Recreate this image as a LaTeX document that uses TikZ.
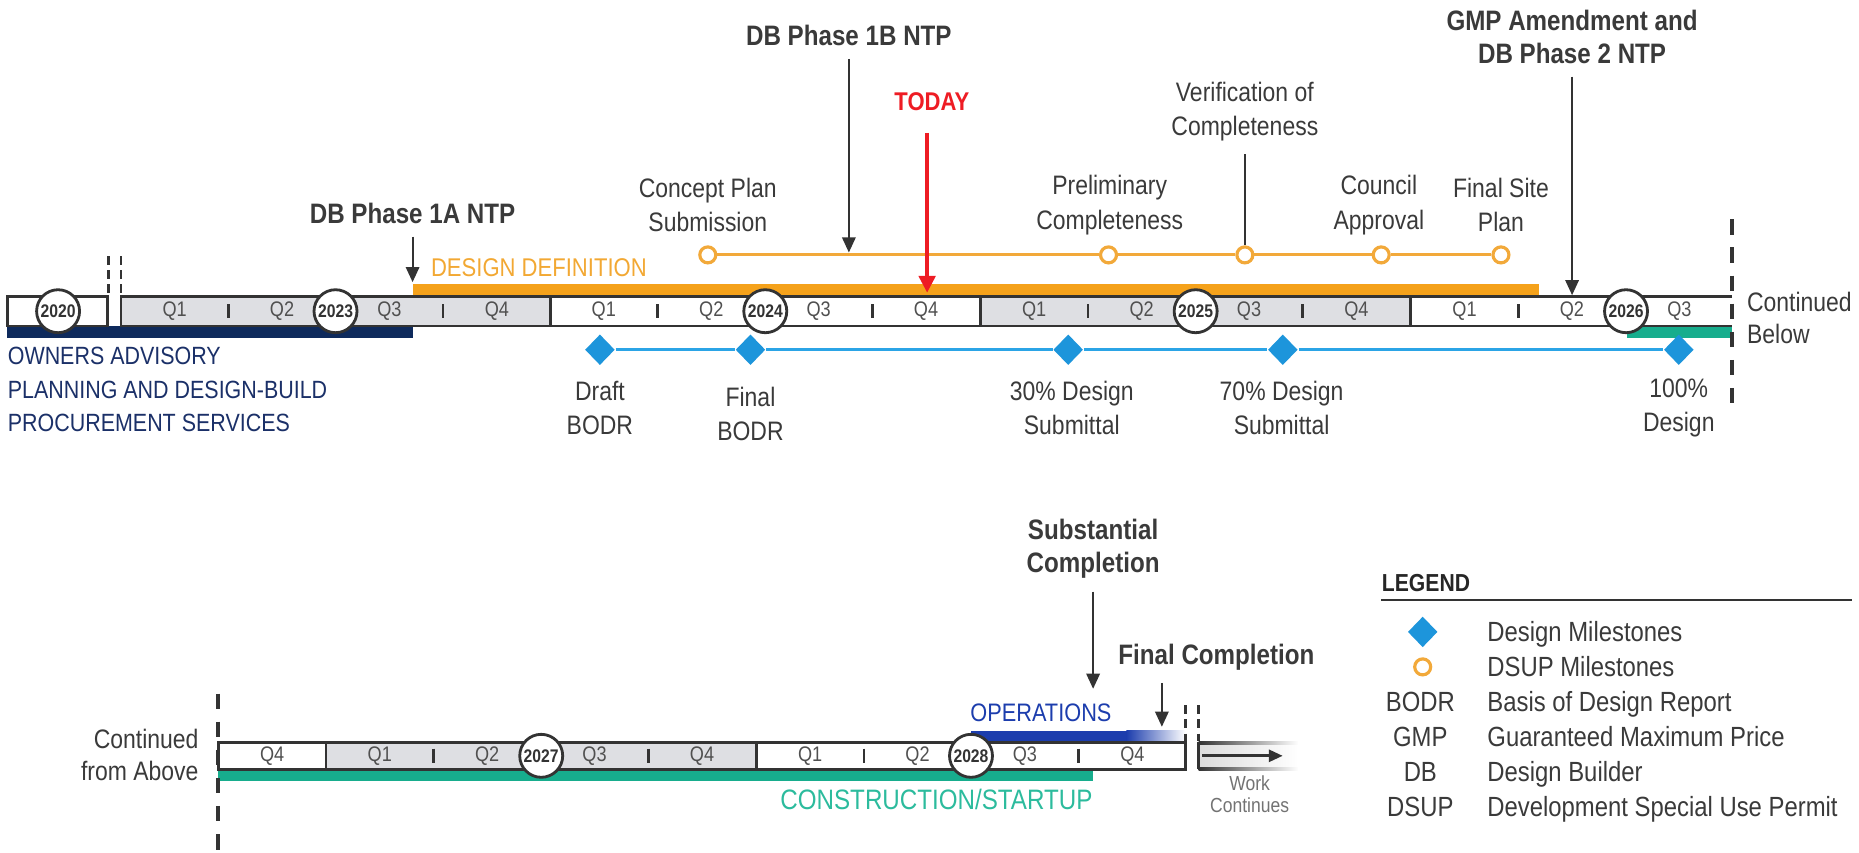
\documentclass[tikz,border=0pt]{standalone}
\usepackage{fontspec}
\setmainfont{Liberation Sans}[FakeStretch=0.86]
\usetikzlibrary{arrows.meta,shapes.geometric,positioning}

\definecolor{bardark}{HTML}{333333}
\definecolor{txtgray}{HTML}{3A3A3A}
\definecolor{qgray}{HTML}{505050}
\definecolor{qfill}{HTML}{DEDFE3}
\definecolor{navybar}{HTML}{0E2A5C}
\definecolor{navytxt}{HTML}{1B3068}
\definecolor{ddorange}{HTML}{F5A21B}
\definecolor{ddtxt}{HTML}{F2A833}
\definecolor{dsuporange}{HTML}{F2A93A}
\definecolor{cteal}{HTML}{17AD8D}
\definecolor{ctealtxt}{HTML}{2CBB9D}
\definecolor{desblue}{HTML}{1D95DB}
\definecolor{deslinecol}{HTML}{2BA4E6}
\definecolor{opblue}{HTML}{1C3DAD}
\definecolor{todayred}{HTML}{EE1C24}

\tikzset{
  barline/.style={draw=bardark, line width=0.8pt},
  qtick/.style={bardark, line width=0.75pt},
  qlab/.style={font=\fontsize{6}{7}\selectfont, text=qgray},
  yrcirc/.style={circle, draw=bardark, line width=0.8pt, fill=white, minimum size=4.3mm,
    font=\fontsize{5.2}{6}\selectfont\bfseries, text=bardark},
  lbl/.style={font=\fontsize{7.6}{9.8}\selectfont, text=txtgray, align=center},
  boldlbl/.style={font=\fontsize{8}{9.4}\selectfont\bfseries, text=txtgray, align=center},
  dsupdot/.style={circle, draw=dsuporange, line width=0.9pt, fill=white, minimum size=1.6mm},
  desdiam/.style={diamond, fill=desblue, minimum width=3mm, minimum height=3.1mm},
  ptr/.style={-{Triangle[length=4.3pt,width=3.8pt]}, line width=0.6pt, bardark, shorten <=3.5pt},
  vdash/.style={bardark, line width=1.3pt, dash pattern=on 4.4pt off 3.6pt},
  gapdash/.style={bardark, line width=0.7pt, dash pattern=on 2.4pt off 1.6pt},
  legtxt/.style={font=\fontsize{7.9}{9.5}\selectfont, text=txtgray, text height=5.7pt, text depth=0pt},
}

\begin{document}
\begin{tikzpicture}[x=0.1186mm, y=-0.1186mm, every node/.style={inner sep=0pt}]
  \useasboundingbox (0,0) rectangle (1568,719);

  % Shaded years behind the bars.
  \fill[qfill] (102,250) rectangle (464,275);
  \fill[qfill] (827,250) rectangle (1190,275);
  \fill[qfill] (275,626) rectangle (638,649);

  % Phase bars above and below the timeline.
  \fill[navybar] (6,275) rectangle (348,285.5);
  \fill[ddorange] (348,239.5) rectangle (1298,250);
  \fill[cteal] (1372,275) rectangle (1461,285.5);
  \fill[cteal] (184,649) rectangle (922,658.5);
  \fill[opblue] (819,616.5) rectangle (950,626);
  \shade[left color=opblue, right color=white] (950,616.5) rectangle (1000,626);

  % Timeline outlines.
  \draw[barline] (6,250) rectangle (91,275);
  \draw[barline] (1461,250) -- (102,250) -- (102,275) -- (1461,275);
  \foreach \x in {464,827,1190}{\draw[barline] (\x,250) -- (\x,275);}
  \draw[barline] (184,626) rectangle (1000,649);
  \foreach \x in {275,638}{\draw[barline] (\x,626) -- (\x,649);}

  % Breaks in time and continuation marks.
  \foreach \x in {91.5,102}{\draw[gapdash] (\x,216) -- (\x,249);}
  \foreach \x in {1000,1011}{\draw[gapdash] (\x,595) -- (\x,625);}
  \draw[vdash] (1461,185) -- (1461,343);
  \draw[vdash] (184,585) -- (184,717);

  % Quarters, top row.
  \foreach \s in {102,464,827}{
    \foreach \q in {1,...,4}{\node[qlab] (q\s-\q) at (\s+90.6*\q-45.3,262.5) {Q\q};}
    \draw[qtick] (\s+90.6,256.5) -- (\s+90.6,268.5);
    \draw[qtick] (\s+271.8,256.5) -- (\s+271.8,268.5);
  }
  \foreach \q in {1,2,3}{\node[qlab] (q1190-\q) at (1190+90.6*\q-45.3,262.5) {Q\q};}
  \draw[qtick] (1280.6,256.5) -- (1280.6,268.5);

  % Quarters, bottom row.
  \node[qlab] (q184-4) at (229.5,637.5) {Q4};
  \foreach \s in {275,638}{
    \foreach \q in {1,...,4}{\node[qlab] (q\s-\q) at (\s+90.6*\q-45.3,637.5) {Q\q};}
    \draw[qtick] (\s+90.6,631.5) -- (\s+90.6,643.5);
    \draw[qtick] (\s+271.8,631.5) -- (\s+271.8,643.5);
  }

  % Year markers.
  \foreach \yx/\yr in {49/2020,283/2023,645.5/2024,1008.5/2025,1371.5/2026}{
    \node[yrcirc] (y\yr) at (\yx,262.5) {\yr};
  }
  \foreach \yx/\yr in {456.5/2027,819/2028}{
    \node[yrcirc] (y\yr) at (\yx,637.5) {\yr};
  }

  % Design milestones.
  \foreach \n/\x in {1/506,2/633,3/901,4/1082,5/1416}{\node[desdiam] (d\n) at (\x,295) {};}
  \draw[deslinecol, line width=0.9pt] (d1) -- (d2) -- (d3) -- (d4) -- (d5);
  \node[lbl] (draft) at (506,344) {Draft\\BODR};
  \node[lbl] (final) at (633,349) {Final\\BODR};
  \node[lbl] (des30) at (904,344) {30\% Design\\Submittal};
  \node[lbl] (des70) at (1081,344) {70\% Design\\Submittal};
  \node[lbl] (des100) at (1416,344) {100\%\\Design};

  % DSUP milestones.
  \foreach \n/\x in {1/597,2/935,3/1050,4/1165,5/1266}{\node[dsupdot] (c\n) at (\x,215) {};}
  \draw[dsuporange, line width=0.8pt] (c1) -- (c2) -- (c3) -- (c4) -- (c5);
  \node[lbl] (concept) at (597,173) {Concept Plan\\Submission};
  \node[lbl] (prelim) at (936,173) {Preliminary\\Completeness};
  \node[lbl] (verif) at (1050,94) {Verification of\\Completeness};
  \node[lbl] (council) at (1163,173) {Council\\Approval};
  \node[lbl] (siteplan) at (1266,173) {Final Site\\Plan};
  \draw[bardark, line width=0.6pt, shorten <=3.5pt] (verif) -- (c3);

  % Notices to proceed and completion pointers.
  \node[boldlbl] (ntp1a) at (348,180) {DB Phase 1A NTP};
  \coordinate (ntp1a-end) at (348,238);
  \draw[ptr] (ntp1a) -- (ntp1a-end);
  \node[boldlbl] (ntp1b) at (716,30) {DB Phase 1B NTP};
  \coordinate (ntp1b-end) at (716,213);
  \draw[ptr] (ntp1b) -- (ntp1b-end);
  \node[boldlbl] (gmp) at (1326,31) {GMP Amendment and\\DB Phase 2 NTP};
  \coordinate (gmp-end) at (1326,249);
  \draw[ptr] (gmp) -- (gmp-end);
  \node[boldlbl] (subst) at (922,463) {Substantial\\Completion};
  \coordinate (subst-end) at (922,581);
  \draw[ptr] (subst) -- (subst-end);
  \node[boldlbl] (fincomp) at (1026,554) {Final Completion};
  \coordinate (fincomp-end) at (980,613);
  \draw[ptr] (fincomp.south -| fincomp-end) -- (fincomp-end);

  % Today.
  \node[font=\fontsize{7.3}{8}\selectfont\bfseries, text=todayred] (today) at (786,86) {TODAY};
  \coordinate (today-end) at (782,247);
  \draw[-{Triangle[length=4.8pt,width=4.6pt]}, todayred, line width=1.3pt, shorten <=6pt]
    (today.south -| today-end) -- (today-end);

  % Phase names.
  \node[anchor=west, font=\fontsize{7.3}{8}\selectfont, text=ddtxt] (ddef) at (363,226) {DESIGN DEFINITION};
  \node[anchor=west, font=\fontsize{7.1}{9.6}\selectfont, text=navytxt, align=left] (owners)
    at (6,328.5) {OWNERS ADVISORY\\PLANNING AND DESIGN-BUILD\\PROCUREMENT SERVICES};
  \node[font=\fontsize{7.2}{8}\selectfont, text=opblue] (ops) at (878,601) {OPERATIONS};
  \node[anchor=east, font=\fontsize{8}{9}\selectfont, text=ctealtxt] (constr) at (922,674) {CONSTRUCTION/STARTUP};
  \node[lbl, anchor=west, align=left, font=\fontsize{7.6}{9.2}\selectfont] (cont-below) at (1473,268) {Continued\\Below};
  \node[lbl, anchor=east, align=right, font=\fontsize{7.6}{9.2}\selectfont] (cont-above) at (168,637) {Continued\\from Above};

  % Work continues.
  \shade[left color=black!14, right color=white] (1011,626) rectangle (1095,649);
  \shade[left color=bardark, right color=white] (1011,625.2) rectangle (1095,627.6);
  \shade[left color=bardark, right color=white] (1011,647.6) rectangle (1095,650);
  \draw[barline] (1011,626) -- (1011,649);
  \coordinate (work-a) at (1014,637.5);
  \coordinate (work-b) at (1082,637.5);
  \draw[-{Triangle[length=4pt,width=3.4pt]}, bardark, line width=0.9pt] (work-a) -- (work-b);
  \node[font=\fontsize{5.8}{6.2}\selectfont, text=black!55, align=center] (work) at (1054,670) {Work\\Continues};

  % Legend.
  \node[anchor=west, font=\fontsize{7}{8}\selectfont\bfseries, text=black!85] (legend) at (1165,492) {LEGEND};
  \draw[bardark, line width=0.8pt] (1165,506) -- (1562,506);
  \node[desdiam] (key-des) at (1200,533) {};
  \node[dsupdot] (key-dsup) at (1200,562.5) {};
  \node[legtxt, anchor=west] (key-des-txt) at (1254,533) {Design Milestones};
  \node[legtxt, anchor=west] (key-dsup-txt) at (1254,562.5) {DSUP Milestones};
  \foreach \yy/\ab/\full in {592/BODR/Basis of Design Report, 621.5/GMP/Guaranteed Maximum Price,
                             651/DB/Design Builder, 680.5/DSUP/Development Special Use Permit}{
    \node[legtxt] (ab-\ab) at (1198,\yy) {\ab};
    \node[legtxt, anchor=west] (def-\ab) at (1254,\yy) {\full};
  }
\end{tikzpicture}
\end{document}
